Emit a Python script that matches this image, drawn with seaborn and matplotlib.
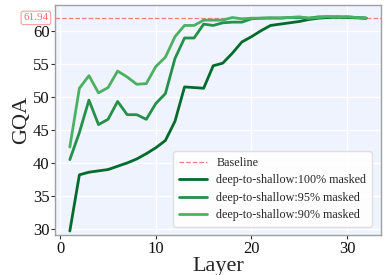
import numpy as np
import pandas as pd
import matplotlib
matplotlib.use("Agg")
import matplotlib.pyplot as plt
import seaborn as sns

layers = list(range(1, 33))

masked_100 = [29.7, 38.2, 38.6, 38.8, 39.0, 39.5, 40.0, 40.6, 41.4, 42.3,
              43.4, 46.3, 51.5, 51.4, 51.3, 54.7, 55.1, 56.6, 58.3, 59.1,
              60.0, 60.8, 61.0, 61.2, 61.4, 61.7, 61.9, 62.0, 62.1, 62.0,
              61.95, 61.9]
masked_95 = [40.5, 44.6, 49.5, 45.8, 46.6, 49.3, 47.3, 47.3, 46.6, 49.0,
             50.5, 55.8, 58.9, 58.9, 61.0, 60.8, 61.2, 61.3, 61.3, 61.8,
             61.9, 61.95, 61.9, 62.0, 62.0, 61.9, 62.1, 62.1, 62.0, 62.1,
             62.0, 61.9]
masked_90 = [42.4, 51.3, 53.2, 50.6, 51.4, 53.9, 53.0, 51.9, 52.0, 54.6,
             56.0, 59.1, 60.8, 60.8, 61.6, 61.6, 61.6, 62.0, 61.8, 61.9,
             61.9, 61.9, 61.95, 62.0, 62.1, 61.9, 62.0, 62.15, 62.1, 62.1,
             62.0, 61.9]

baseline = 61.94
series_names = ["deep-to-shallow:100% masked",
                "deep-to-shallow:95% masked",
                "deep-to-shallow:90% masked"]
colors = ["#006B2B", "#24914A", "#4CB062"]

df = pd.DataFrame({
    "Layer": layers * 3,
    "GQA": masked_100 + masked_95 + masked_90,
    "series": sum([[n] * len(layers) for n in series_names], []),
})

sns.set_theme(style="darkgrid", rc={
    "axes.facecolor": "#EEF3FD",
    "grid.color": "white",
    "axes.edgecolor": "#A0A0A0",
})
plt.rcParams["font.family"] = ["Liberation Serif", "DejaVu Serif"]

fig = plt.figure(figsize=(3.86, 2.75), dpi=100)
ax = fig.add_axes([0.1425, 0.1455, 0.8445, 0.8365])

ax.axhline(baseline, color="#F08080", linestyle="--", linewidth=0.9,
           label="Baseline")
sns.lineplot(data=df, x="Layer", y="GQA", hue="series",
             palette=dict(zip(series_names, colors)), linewidth=2,
             ax=ax)

ax.set_xlim(-0.55, 33.55)
ax.set_ylim(29.1, 63.9)
ax.set_xticks([0, 10, 20, 30])
ax.set_yticks([30, 35, 40, 45, 50, 55, 60])
ax.tick_params(axis="both", labelsize=12, length=3, width=0.8,
               color="#333333", labelcolor="#111111", pad=1,
               bottom=True, left=True)
ax.set_xlabel("Layer", fontsize=16, labelpad=0)
ax.set_ylabel("GQA", fontsize=16, labelpad=1)
for s in ax.spines.values():
    s.set_visible(True)
    s.set_linewidth(1.0)

ax.text(-0.02, baseline, f"{baseline:.2f}", transform=ax.get_yaxis_transform(),
        ha="right", va="center", fontsize=8, color="#F07070",
        bbox=dict(boxstyle="round,pad=0.2", facecolor="white",
                  edgecolor="#F4A0A0", linewidth=0.8))

handles, labels = ax.get_legend_handles_labels()
ax.legend(handles, labels, loc="lower right", fontsize=8.7,
          frameon=True, facecolor="white", edgecolor="#DDDDDD",
          framealpha=0.9, borderpad=0.45, labelspacing=0.45,
          handlelength=2.3, bbox_to_anchor=(0.99, 0.01))

fig.savefig("out.png", dpi=100)
